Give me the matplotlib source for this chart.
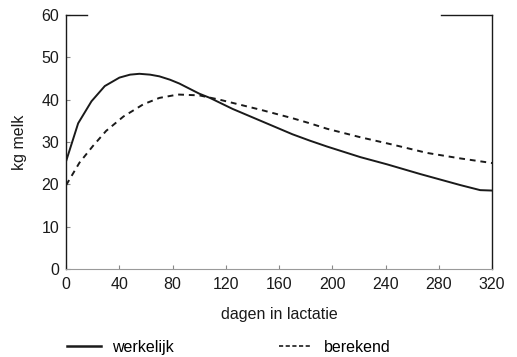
import matplotlib
matplotlib.use("Agg")
import matplotlib.pyplot as plt
from matplotlib.lines import Line2D

# ── Data ──────────────────────────────────────────────────────────────────────
DAYS_ACTUAL = [0, 9, 19, 29, 40, 48, 55, 63, 70, 78, 85, 100, 108, 125, 146,
               170, 183, 196, 221, 241, 266, 296, 311, 320]
MILK_ACTUAL = [25.5, 34.4, 39.6, 43.2, 45.2, 45.9, 46.1, 45.9, 45.5, 44.7,
               43.8, 41.4, 40.4, 37.8, 35.0, 31.8, 30.3, 28.9, 26.4, 24.7,
               22.4, 19.8, 18.6, 18.5]

DAYS_CALC = [0, 10, 20, 30, 43, 58, 70, 84, 100, 115, 146, 170, 183, 196,
             221, 246, 271, 296, 320]
MILK_CALC = [19.8, 25.1, 29.0, 32.6, 36.0, 38.9, 40.4, 41.2, 41.0, 40.0,
             37.6, 35.6, 34.4, 33.1, 31.1, 29.3, 27.4, 26.1, 25.0]

X_TICKS = [0, 40, 80, 120, 160, 200, 240, 280, 320]
Y_TICKS = [0, 10, 20, 30, 40, 50, 60]

plt.rcParams["font.family"] = ["Liberation Sans", "DejaVu Sans"]
INK = "#1a1a1a"

fig = plt.figure(figsize=(5.17, 3.57), dpi=100)
ax = fig.add_axes([0.128, 0.247, 0.824, 0.711])

ax.plot(DAYS_ACTUAL, MILK_ACTUAL, color=INK, lw=1.4, solid_joinstyle="round")
ax.plot(DAYS_CALC, MILK_CALC, color=INK, lw=1.4, linestyle=(0, (3, 2.5)))

ax.set_xlim(0, 320)
ax.set_ylim(0, 60)
ax.set_xticks(X_TICKS)
ax.set_yticks(Y_TICKS)
ax.tick_params(direction="in", length=3, width=0.8, color="#888888",
               labelsize=11.5, labelcolor=INK)
ax.tick_params(axis="x", pad=6)
ax.tick_params(axis="y", pad=5)

# scan-like frame: dark sides, faint bottom, short pieces of the top
ax.spines["top"].set_visible(False)
ax.spines["left"].set_color(INK)
ax.spines["right"].set_color(INK)
ax.spines["left"].set_linewidth(1.0)
ax.spines["right"].set_linewidth(1.0)
ax.spines["bottom"].set_color("#9a9a9a")
ax.spines["bottom"].set_linewidth(0.8)
for x0, x1 in [(0.0, 0.05), (0.88, 1.0)]:
    ax.plot([x0, x1], [1, 1], transform=ax.transAxes, color=INK, lw=1.0,
            clip_on=False)

ax.set_xlabel("dagen in lactatie", fontsize=11.5, color=INK, labelpad=11)
ax.set_ylabel("kg melk", fontsize=11.5, color=INK, labelpad=10)

handles = [
    Line2D([], [], color=INK, lw=1.8),
    Line2D([], [], color=INK, lw=1.2, linestyle=(0, (2.5, 1.5))),
]
fig.legend(handles, ["werkelijk", "berekend"], ncol=2, frameon=False,
           loc="center left", bbox_to_anchor=(0.1296, 0.027),
           borderpad=0, borderaxespad=0,
           fontsize=11.5, handlelength=2.1, handletextpad=0.7,
           columnspacing=6.6)

fig.savefig("out.png", dpi=100, facecolor="white")
